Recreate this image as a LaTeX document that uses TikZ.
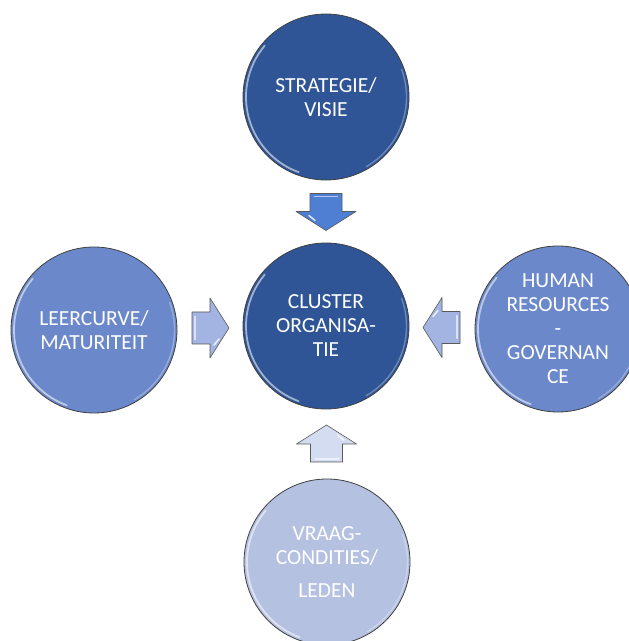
\documentclass[tikz,border=0pt]{standalone}
\usepackage{fontspec}
\setmainfont{Carlito}
\usepackage{xcolor}
\usetikzlibrary{calc}

\definecolor{darkblue}{HTML}{2F5597}
\definecolor{midblue}{HTML}{6B88CA}
\definecolor{paleblue}{HTML}{B4C1E1}
\definecolor{arrowblue}{HTML}{4F7FD2}
\definecolor{arrowgrey}{HTML}{A3B4E2}
\definecolor{arrowpale}{HTML}{D3DCF1}

\tikzset{
  bubble/.style={circle, draw=black!75, line width=0.8pt, minimum size=166pt,
    inner sep=0pt, text=white, align=center,
    font=\fontsize{21.5}{24}\selectfont},
  blockfill/.style={draw=black!65, line width=0.6pt, line join=round}
}

% block arrow half way between two nodes
\newcommand{\blockarrow}[4]{
  \begin{scope}[shift={($(#1)!0.5!(#2)$)}, rotate=#3]
    \filldraw[blockfill, fill=#4] (-18,-16) -- (0,-16) -- (0,-30) -- (19,0)
        -- (0,30) -- (0,16) -- (-18,16) -- cycle;
    \draw[white, opacity=.6, line width=1.2pt] (-15,-12) -- (-15,12);
    \draw[white, opacity=.8, line width=1.5pt, line cap=round] (4,-17) -- (9,-11);
  \end{scope}
}

\begin{document}
\begin{tikzpicture}[x=1pt,y=1pt]
  \useasboundingbox[fill=white] (0,0) rectangle (629,641);
  \clip (0,0) rectangle (629,641);

  \node[bubble, fill=darkblue] (strategie) at (326,544) {STRATEGIE/\\VISIE};
  \node[bubble, fill=darkblue] (cluster) at (326,315) {CLUSTER\\ORGANISA-\\TIE};
  \node[bubble, fill=midblue] (leercurve) at (94,311) {LEERCURVE/\\MATURITEIT};
  \node[bubble, fill=midblue] (human) at (558,312) {HUMAN\\RESOURCES\\-\\GOVERNAN\\CE};
  \node[bubble, fill=paleblue] (vraag) at (327,79) {VRAAG-\\CONDITIES/\\[9pt]LEDEN};

  % gloss on the rims
  \foreach \n in {strategie,cluster,leercurve,human,vraag}{
    \draw[white, opacity=.55, line width=1.8pt, line cap=round]
      ([shift={(140:80)}]\n.center) arc[start angle=140, end angle=250, radius=80];
    \draw[white, opacity=.3, line width=1.4pt, line cap=round]
      ([shift={(-60:80.5)}]\n.center) arc[start angle=-60, end angle=20, radius=80.5];
  }

  \blockarrow{strategie}{cluster}{-90}{arrowblue}
  \blockarrow{leercurve}{cluster}{0}{arrowgrey}
  \blockarrow{human}{cluster}{180}{arrowgrey}
  \blockarrow{vraag}{cluster}{90}{arrowpale}
\end{tikzpicture}
\end{document}
